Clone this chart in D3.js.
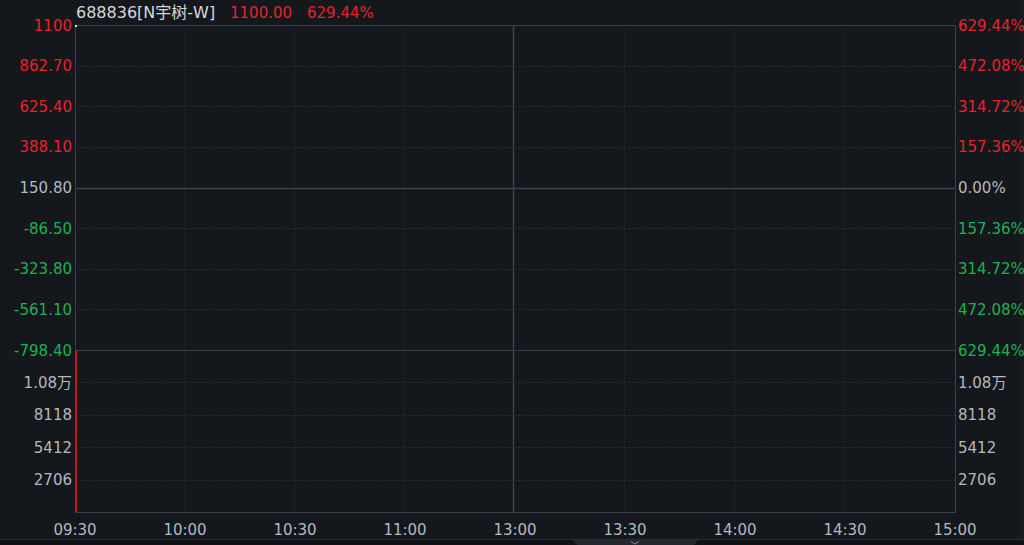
<!DOCTYPE html>
<html><head><meta charset="utf-8">
<script src="https://cdn.jsdelivr.net/npm/d3@7"></script>
<style>
html,body{margin:0;padding:0;background:#14171c;overflow:hidden;}
svg{display:block;}
text{font-family:"DejaVu Sans","Noto Sans CJK SC",sans-serif;}
</style></head>
<body><svg id="c" width="1024" height="545"></svg>
<script>
// ---- data ----
const title = "688836[N宇树-W]";
const lastPrice = "1100.00";
const lastPct = "629.44%";
const timeLabels = ["09:30","10:00","10:30","11:00","13:00","13:30","14:00","14:30","15:00"];
const timeMinutes = [0,30,60,90,120,150,180,210,240];
const priceTicks = [1100, 862.70, 625.40, 388.10, 150.80, -86.50, -323.80, -561.10, -798.40];
const priceTickLabels = ["1100","862.70","625.40","388.10","150.80","-86.50","-323.80","-561.10","-798.40"];
const pctTickLabels = ["629.44%","472.08%","314.72%","157.36%","0.00%","157.36%","314.72%","472.08%","629.44%"];
const basePrice = 150.80;
const volTicks = [10824, 8118, 5412, 2706];
const volTickLabels = ["1.08万","8118","5412","2706"];
const volMax = 13530;
const priceMinutes = [0];
const priceValues = [1100];
const volMinutes = [0];
const volValues = [13530];

// ---- layout ----
const L = 75, R = 955, T = 25, PB = 350, VB = 512;
const RED = "#e8222c", GREEN = "#1fb14f", GRAY = "#b4b8bf", GRID = "#33373e", SOLID = "#3b3e45";

const svg = d3.select("#c");
const x = d3.scaleLinear().domain([0,240]).range([L,R]);
const y = d3.scaleLinear().domain([priceTicks[8], priceTicks[0]]).range([PB,T]);
const yv = d3.scaleLinear().domain([0, volMax]).range([VB, PB]);

// bottom strip
svg.append("rect").attr("x",0).attr("y",539).attr("width",1024).attr("height",6).attr("fill","#0f1115");
svg.append("line").attr("x1",0).attr("x2",1024).attr("y1",539.5).attr("y2",539.5).attr("stroke","#2a2d33");
svg.append("path").attr("d","M573,540 L698,540 L694,545 L577,545 Z").attr("fill","#24272d");
svg.append("path").attr("d","M631,541.5 L635,544 L639,541.5").attr("fill","none").attr("stroke","#8a8e95").attr("stroke-width",1);
// right edge strip
svg.append("rect").attr("x",1020).attr("y",0).attr("width",4).attr("height",539).attr("fill","#181b20");

const g = svg.append("g");

// horizontal dotted grid
priceTicks.forEach((v,i)=>{
  if(i===0||i===4||i===8) return;
  g.append("line").attr("x1",L).attr("x2",R).attr("y1",Math.round(y(v))+0.5).attr("y2",Math.round(y(v))+0.5)
   .attr("stroke",GRID).attr("stroke-dasharray","1,2");
});
volTicks.forEach(v=>{
  g.append("line").attr("x1",L).attr("x2",R).attr("y1",Math.round(yv(v))+0.5).attr("y2",Math.round(yv(v))+0.5)
   .attr("stroke",GRID).attr("stroke-dasharray","1,2");
});
// vertical grid
timeMinutes.forEach((m,i)=>{
  if(i===0||i===8) return;
  if(m===120){
    const xx = Math.floor(x(m))-1.5;
    g.append("line").attr("x1",xx).attr("x2",xx).attr("y1",T).attr("y2",VB).attr("stroke","#3f4249").attr("stroke-width",1.5);
  } else {
    const xx = Math.round(x(m))-0.5;
    g.append("line").attr("x1",xx).attr("x2",xx).attr("y1",T).attr("y2",VB).attr("stroke",GRID).attr("stroke-dasharray","1,3");
  }
});
// base line & separator
g.append("line").attr("x1",L).attr("x2",R).attr("y1",Math.round(y(basePrice))+0.5).attr("y2",Math.round(y(basePrice))+0.5).attr("stroke","#3f4249").attr("stroke-width",1.5);
g.append("line").attr("x1",L).attr("x2",R).attr("y1",PB+0.5).attr("y2",PB+0.5).attr("stroke",SOLID);
// border
g.append("rect").attr("x",L+0.5).attr("y",T+0.5).attr("width",R-L).attr("height",VB-T).attr("fill","none").attr("stroke",SOLID);

// volume bars
g.selectAll(".vb").data(volValues).enter().append("rect")
  .attr("x",(d,i)=>x(volMinutes[i])).attr("width",2)
  .attr("y",d=>yv(d)+1).attr("height",d=>VB-yv(d)-1).attr("fill","#c8141c");

// price line / point
const pts = priceValues.map((v,i)=>[x(priceMinutes[i]), y(v)]);
g.append("path").attr("d", d3.line()(pts)).attr("fill","none").attr("stroke","#e0e0e0");
g.selectAll(".pp").data(pts).enter().append("rect").attr("x",d=>d[0]).attr("y",d=>d[1]).attr("width",2).attr("height",2).attr("fill","#d8d8d8");

// labels
const fs = 15;
priceTicks.forEach((v,i)=>{
  const col = i<4?RED:(i===4?GRAY:GREEN);
  svg.append("text").attr("x",72).attr("y",y(v)+5.5).attr("text-anchor","end").attr("font-size",fs).attr("fill",col).text(priceTickLabels[i]);
  svg.append("text").attr("x",958).attr("y",y(v)+5.5).attr("text-anchor","start").attr("font-size",fs).attr("fill",col).text(pctTickLabels[i]);
});
volTicks.forEach((v,i)=>{
  svg.append("text").attr("x",72).attr("y",yv(v)+5.5).attr("text-anchor","end").attr("font-size",fs).attr("fill",GRAY).text(volTickLabels[i]);
  svg.append("text").attr("x",958).attr("y",yv(v)+5.5).attr("text-anchor","start").attr("font-size",fs).attr("fill",GRAY).text(volTickLabels[i]);
});
timeMinutes.forEach((m,i)=>{
  svg.append("text").attr("x",x(m)).attr("y",535).attr("text-anchor","middle").attr("font-size",fs).attr("fill",GRAY).text(timeLabels[i]);
});
// title
svg.append("text").attr("x",76).attr("y",18).attr("font-size",16).attr("fill","#d6d8dc").text(title);
svg.append("text").attr("x",230).attr("y",18).attr("font-size",fs).attr("fill",RED).text(lastPrice);
svg.append("text").attr("x",307).attr("y",18).attr("font-size",fs).attr("fill",RED).text(lastPct);
</script></body></html>
